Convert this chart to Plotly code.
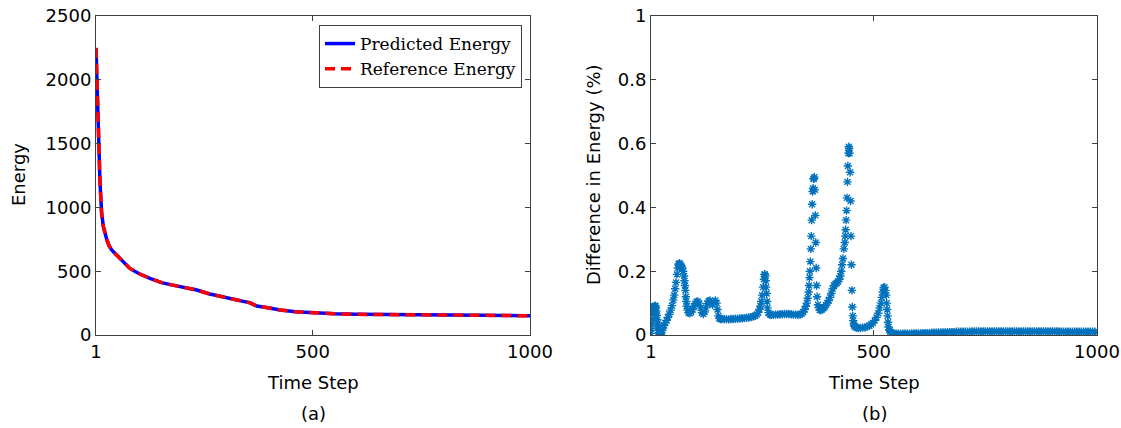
import plotly.graph_objects as go

# ---------------- data: panel (a) ----------------
energy_steps = [1, 2, 3, 4, 6, 8, 10, 12, 14, 18, 22, 26, 31, 37, 46, 56, 67, 79, 90, 102,
                125, 152, 175, 194, 215, 233, 263, 290, 310, 330, 344, 356, 364, 371, 390,
                425, 460, 500, 550, 600, 650, 700, 800, 900, 1000]
reference_energy = [2250, 2120, 1950, 1800, 1480, 1330, 1215, 1080, 954, 849, 790, 745, 700,
                    666, 635, 601, 565, 522, 500, 478, 444, 410, 393, 379, 366, 353, 321,
                    303, 287, 273, 261, 252, 238, 227, 218, 196, 183, 173, 166, 162, 160,
                    158, 156, 153, 151]
predicted_energy = [2250, 2120, 1950, 1800, 1480, 1330, 1215, 1080, 954, 849, 790, 745, 700,
                    666, 635, 601, 565, 522, 500, 478, 444, 410, 393, 379, 366, 353, 321,
                    303, 287, 273, 261, 252, 238, 227, 218, 196, 183, 173, 166, 162, 160,
                    158, 156, 153, 151]

# ---------------- data: panel (b) ----------------
diff_steps = [
    1, 2, 3, 4, 5, 6, 7, 8, 9, 10, 11, 12, 13, 14, 15, 16, 17, 18, 19, 20, 21, 22, 23, 24,
    26, 28, 30, 33, 36, 39, 42, 45, 48, 51, 53, 55, 57, 59, 61, 63, 65, 67, 69, 71, 73, 75,
    76, 77, 78, 79, 80, 81, 83, 85, 88, 91, 94, 97, 100, 103, 106, 109, 112, 115, 118, 121,
    124, 127, 130, 133, 136, 139, 142, 145, 148, 150, 152, 154, 157,
    160, 165, 170, 175, 180, 185, 190, 195, 200, 205, 210, 215, 220, 225, 230, 234, 238,
    241, 244, 246, 248, 250, 252, 254, 255, 256, 257, 258, 259, 260, 261, 262, 264, 267,
    270, 275, 280, 285, 290, 295, 300, 305, 310, 315, 320, 325, 330, 335, 339, 342, 345,
    348, 350, 352, 354, 355, 356, 357, 358, 359, 360, 361, 362, 363, 364, 365, 366, 367,
    368, 369, 370, 371, 372, 373, 375, 377, 379, 381, 384, 387, 390, 393, 396, 399, 402,
    405, 408, 411, 414, 417, 420, 423, 425, 427, 429, 431, 433, 435, 436, 437, 438, 439,
    440, 441, 442, 443, 444, 445, 446, 447, 448, 449, 450, 451, 452, 453, 454, 455, 456,
    458, 461, 465, 470, 475, 480, 485, 490, 494, 498, 502, 506, 510, 513, 516, 518, 520,
    522, 524, 526, 528, 529, 530, 531, 532, 533, 535, 537, 540, 545, 550, 555, 560, 565,
    570, 575, 580, 585, 590, 595, 600, 605, 610, 615, 620, 625, 630, 635, 640, 645, 650,
    655, 660, 665, 670, 675, 680, 685, 690, 695, 700, 705, 710, 715, 720, 725, 730, 735,
    740, 745, 750, 755, 760, 765, 770, 775, 780, 785, 790, 795, 800, 805, 810, 815, 820,
    825, 830, 835, 840, 845, 850, 855, 860, 865, 870, 875, 880, 885, 890, 895, 900, 905,
    910, 915, 920, 925, 930, 935, 940, 945, 950, 955, 960, 965, 970, 975, 980, 985, 990,
    995, 1000]
diff_percent = [
    0.005, 0.02, 0.035, 0.05, 0.065, 0.075, 0.082, 0.088, 0.09, 0.092, 0.09, 0.085, 0.075,
    0.062, 0.048, 0.035, 0.025, 0.015, 0.008, 0.004, 0.002, 0.001, 0.003, 0.008,
    0.015, 0.022, 0.03, 0.038, 0.046, 0.055, 0.065, 0.078, 0.092, 0.11, 0.125, 0.145, 0.165,
    0.19, 0.21, 0.222, 0.225, 0.22, 0.215, 0.21, 0.2, 0.185,
    0.17, 0.155, 0.14, 0.12, 0.105, 0.09, 0.078, 0.07, 0.068, 0.072, 0.08, 0.09, 0.098,
    0.104, 0.105, 0.1, 0.085, 0.07, 0.066, 0.072,
    0.085, 0.098, 0.106, 0.108, 0.1, 0.095, 0.103, 0.108, 0.1, 0.08, 0.06, 0.052, 0.05,
    0.05, 0.05, 0.049, 0.049, 0.05, 0.05, 0.051, 0.051, 0.052, 0.052, 0.053, 0.054, 0.055,
    0.056, 0.058, 0.06, 0.064,
    0.07, 0.08, 0.09, 0.105, 0.125, 0.15, 0.175, 0.19, 0.19, 0.185, 0.17, 0.15, 0.13, 0.105,
    0.085, 0.07, 0.064,
    0.063, 0.063, 0.064, 0.064, 0.065, 0.065, 0.066, 0.066, 0.066, 0.065, 0.064, 0.064,
    0.063, 0.064, 0.067, 0.072, 0.08,
    0.09, 0.1, 0.115, 0.135, 0.155, 0.18, 0.2, 0.23, 0.27, 0.31, 0.36, 0.41, 0.45, 0.46,
    0.49, 0.49, 0.495,
    0.455, 0.375, 0.29, 0.21, 0.155, 0.12, 0.095, 0.085, 0.078, 0.078, 0.08, 0.084, 0.088,
    0.094, 0.1, 0.108, 0.118,
    0.13, 0.145, 0.155, 0.16, 0.163, 0.168, 0.175, 0.185, 0.2, 0.22, 0.24, 0.27, 0.29,
    0.31, 0.33, 0.36,
    0.39, 0.43, 0.48, 0.53, 0.57, 0.59, 0.585, 0.57, 0.51, 0.42, 0.31, 0.22, 0.14, 0.088,
    0.06, 0.045, 0.035,
    0.03, 0.026, 0.023, 0.022, 0.022, 0.023, 0.024, 0.026, 0.029, 0.033, 0.038, 0.045,
    0.055, 0.068, 0.085, 0.1, 0.118,
    0.135, 0.148, 0.15, 0.14, 0.125, 0.1, 0.08, 0.06, 0.04, 0.025, 0.015, 0.01, 0.007,
    0.005, 0.004, 0.004, 0.004,
    0.004, 0.004, 0.004, 0.004, 0.005, 0.005, 0.005, 0.005, 0.005, 0.006, 0.006, 0.006,
    0.006, 0.007, 0.007, 0.007, 0.008,
    0.008, 0.008, 0.008, 0.009, 0.009, 0.009, 0.009, 0.01, 0.01, 0.01, 0.01, 0.01, 0.01,
    0.01, 0.011, 0.011, 0.011,
    0.011, 0.011, 0.011, 0.011, 0.011, 0.011, 0.011, 0.011, 0.011, 0.011, 0.011, 0.011,
    0.011, 0.011, 0.011, 0.011, 0.011,
    0.011, 0.011, 0.011, 0.011, 0.011, 0.011, 0.011, 0.011, 0.011, 0.011, 0.011, 0.011,
    0.011, 0.011, 0.011, 0.011, 0.011,
    0.011, 0.011, 0.011, 0.01, 0.01, 0.01, 0.01, 0.01, 0.01, 0.01, 0.01, 0.01, 0.01,
    0.01, 0.01, 0.01, 0.01,
    0.01, 0.01]

x_ticks = [1, 500, 1000]
x_tick_labels = ["1", "500", "1000"]
energy_ticks = [0, 500, 1000, 1500, 2000, 2500]
diff_ticks = [0, 0.2, 0.4, 0.6, 0.8, 1]
diff_tick_labels = ["0", "0.2", "0.4", "0.6", "0.8", "1"]

# ---------------- figure ----------------
W, H = 1121, 428
AX_COLOR = "#404040"
TICK_FONT = dict(family="DejaVu Sans", size=18, color="#000000")

fig = go.Figure()

fig.add_trace(go.Scatter(
    x=energy_steps, y=predicted_energy, mode="lines", name="Predicted Energy",
    line=dict(color="#0000FF", width=3.5), xaxis="x", yaxis="y"))
fig.add_trace(go.Scatter(
    x=energy_steps, y=reference_energy, mode="lines", name="Reference Energy",
    line=dict(color="#FF0000", width=3.5, dash="10px,6px"), xaxis="x", yaxis="y"))

fig.add_trace(go.Scatter(
    x=diff_steps, y=diff_percent, mode="markers", showlegend=False,
    marker=dict(symbol="asterisk", size=7, color="#0072BD",
                line=dict(color="#0072BD", width=1.4)),
    xaxis="x2", yaxis="y2"))

def px_x(p):
    return p / W

def px_y(p):
    return 1 - p / H

common_axis = dict(showline=True, linecolor=AX_COLOR, linewidth=1, mirror="ticks",
                   ticks="inside", ticklen=5, tickcolor=AX_COLOR, showgrid=False,
                   zeroline=False, tickfont=TICK_FONT, automargin=False)

y_dom = [px_y(335), px_y(16)]

fig.update_layout(
    width=W, height=H,
    margin=dict(l=0, r=0, t=0, b=0, autoexpand=False),
    paper_bgcolor="white", plot_bgcolor="white",
    hovermode=False,
    xaxis=dict(domain=[px_x(96), px_x(530)], range=[1, 1000], tickvals=x_ticks,
               ticktext=x_tick_labels, anchor="y", **common_axis),
    yaxis=dict(domain=y_dom, range=[0, 2500], tickvals=energy_ticks, anchor="x",
               **common_axis),
    xaxis2=dict(domain=[px_x(651), px_x(1097)], range=[1, 1000], tickvals=x_ticks,
                ticktext=x_tick_labels, anchor="y2", **common_axis),
    yaxis2=dict(domain=y_dom, range=[0, 1], tickvals=diff_ticks, ticktext=diff_tick_labels,
                anchor="x2", **common_axis),
    legend=dict(x=px_x(522), y=px_y(25), xanchor="right", yanchor="top",
                bgcolor="white", bordercolor="#404040", borderwidth=1,
                font=dict(family="DejaVu Serif", size=17, color="#000000"),
                itemwidth=30, tracegroupgap=0),
    showlegend=True,
)

label_font = dict(family="DejaVu Sans", size=18, color="#000000")
annotations = [
    dict(text="Energy", x=px_x(18), y=px_y(175), textangle=-90),
    dict(text="Difference in Energy (%)", x=px_x(593), y=px_y(175), textangle=-90),
    dict(text="Time Step", x=px_x(313), y=px_y(382)),
    dict(text="Time Step", x=px_x(874), y=px_y(382)),
    dict(text="(a)", x=px_x(313), y=px_y(413)),
    dict(text="(b)", x=px_x(874), y=px_y(413)),
]
for a in annotations:
    fig.add_annotation(xref="paper", yref="paper", showarrow=False,
                       xanchor="center", yanchor="middle", font=label_font, **a)

fig.write_html(
    "out.html",
    config={"displayModeBar": False},
    post_script="document.body.style.margin='0';document.body.style.overflow='hidden';",
)
